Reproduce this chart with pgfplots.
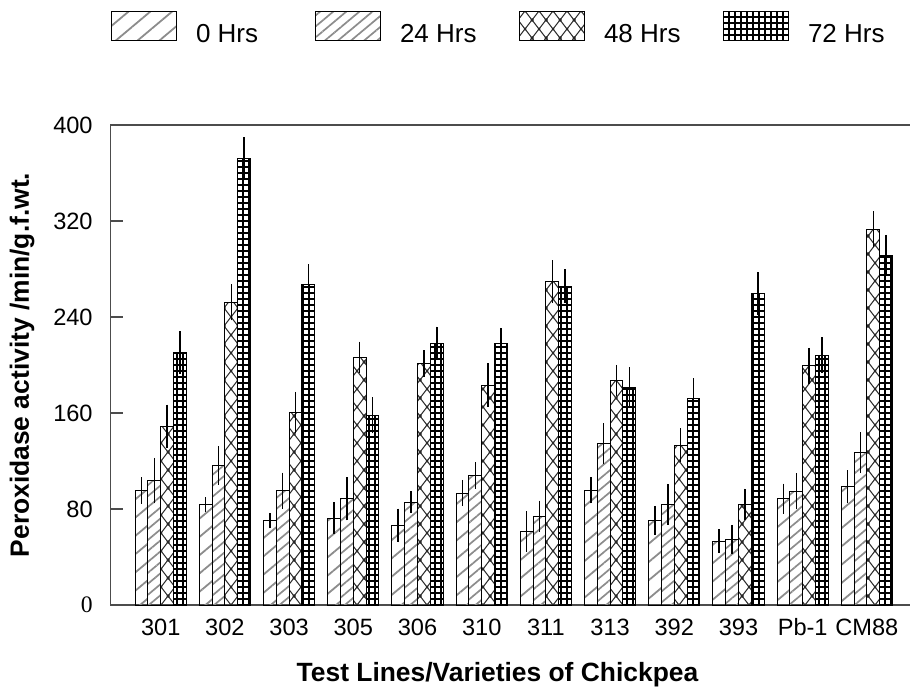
\documentclass[border=0pt]{standalone}
\usepackage{fontspec}
\setmainfont{Liberation Sans}
\newfontfamily\serifnum{Liberation Serif}
\usepackage{pgfplots}
\usepackage{pgfplotstable}
\pgfplotsset{compat=1.18}
\usetikzlibrary{patterns,patterns.meta}

% dense square grid for the 72 h bars
\pgfdeclarepatternformonly{densegrid}{\pgfqpoint{-1pt}{-1pt}}{\pgfqpoint{4pt}{4pt}}{\pgfqpoint{3pt}{3pt}}{%
  \pgfsetlinewidth{1pt}%
  \pgfpathmoveto{\pgfqpoint{-1pt}{1.5pt}}\pgfpathlineto{\pgfqpoint{4pt}{1.5pt}}%
  \pgfpathmoveto{\pgfqpoint{1.5pt}{-1pt}}\pgfpathlineto{\pgfqpoint{1.5pt}{4pt}}%
  \pgfusepath{stroke}}
% diamond hatch with dots for the 48 h bars
\pgfdeclarepatternformonly{diadots}{\pgfqpoint{-1pt}{-1pt}}{\pgfqpoint{8pt}{10pt}}{\pgfqpoint{7pt}{9pt}}{%
  \pgfsetlinewidth{0.5pt}%
  \pgfpathmoveto{\pgfqpoint{0pt}{0pt}}\pgfpathlineto{\pgfqpoint{7pt}{9pt}}%
  \pgfpathmoveto{\pgfqpoint{0pt}{9pt}}\pgfpathlineto{\pgfqpoint{7pt}{0pt}}%
  \pgfusepath{stroke}%
  \pgfpathcircle{\pgfqpoint{3.5pt}{4.5pt}}{0.75pt}%
  \pgfpathcircle{\pgfqpoint{0pt}{0pt}}{0.75pt}%
  \pgfpathcircle{\pgfqpoint{7pt}{0pt}}{0.75pt}%
  \pgfpathcircle{\pgfqpoint{0pt}{9pt}}{0.75pt}%
  \pgfpathcircle{\pgfqpoint{7pt}{9pt}}{0.75pt}%
  \pgfusepath{fill}}

% x = group index, y = activity, e = error
\pgfplotstableread{
x y e
0 95.3 11
1 83.6 6
2 70.3 6.5
3 72.5 13
4 66.4 14
5 93.3 11
6 61.0 17
7 95.6 11
8 70.6 12
9 53.3 10
10 88.6 12.6
11 98.6 13.5
}\hrsA
\pgfplotstableread{
x y e
0 103.6 19
1 116.4 16
2 95.3 15
3 88.6 18
4 85.6 9
5 108.0 11
6 73.9 13
7 134.4 17
8 83.9 17
9 54.7 12
10 94.7 15
11 126.9 17
}\hrsB
\pgfplotstableread{
x y e
0 148.9 18
1 252.2 15
2 160.6 17
3 206.4 13
4 201.4 11
5 183.3 18
6 269.5 18
7 187.2 13
8 133.3 14
9 83.9 13
10 199.2 15
11 313.0 15
}\hrsC
\pgfplotstableread{
x y e
0 210.3 18
1 372.0 18
2 267.0 17
3 158.0 15
4 218.0 14
5 218.0 13
6 265.6 14
7 181.1 17
8 172.0 17
9 259.7 18
10 208.3 15
11 291.4 17
}\hrsD

\begin{document}
\begin{tikzpicture}
\useasboundingbox (-55.35pt,-40.5pt) rectangle (399.65pt,302.5pt);
\begin{axis}[
  at={(0pt,0pt)}, anchor=south west,
  scale only axis, width=400.5pt, height=240pt,
  xmin=-0.779, xmax=11.698, ymin=0, ymax=400,
  ybar, bar width=0.2,
  xtick={0,...,11},
  xticklabels={301,302,303,305,306,310,311,313,392,393,Pb-1,CM88},
  ytick={0,80,160,240,320,400},
  yticklabels={{\serifnum 0},80,160,240,320,400},
  tick align=inside, ytick pos=left, major tick length=6pt,
  xtick style={draw=none}, ytick style={black!70, line width=0.6pt},
  axis line style={black!70, line width=0.8pt},
  yticklabel style={font=\fontsize{11.8}{13}\selectfont, xshift=-5.5pt},
  xticklabel style={font=\fontsize{11.8}{13}\selectfont, anchor=base, yshift=-15pt},
  label style={font=\fontsize{13.2}{15}\selectfont\bfseries},
  xlabel={Test Lines/Varieties of Chickpea},
  ylabel={Peroxidase activity /min/g.f.wt.},
  xlabel style={at={(axis description cs:0.4829,-0.1604)}, anchor=base},
  ylabel style={at={(axis description cs:-0.1107,0.5)}, anchor=center},
  error bars/y dir=both, error bars/y explicit,
  error bars/error mark=none,
  error bars/error bar style={black, line width=0.75pt},
  legend columns=4, legend cell align=left,
  legend image code/.code={\draw[#1, draw=black, line width=0.5pt] (0pt,-2.6pt) rectangle (32.5pt,11.9pt);},
  legend style={at={(axis description cs:0.0004,1.201)}, anchor=west,
    draw=none, fill=none, inner sep=0pt, outer sep=0pt,
    font=\fontsize{13}{15}\selectfont, nodes={inner sep=0pt},
    /tikz/every odd column/.append style={column sep=9.5pt}},
]
\addplot[draw=black, line width=0.5pt, bar shift=-0.3,
  pattern={Lines[angle=40,distance=7pt,line width=0.9pt]}, pattern color=black!45]
  table[x=x, y=y, y error=e] {\hrsA};
\addlegendentry{\makebox[59.5pt][l]{0 Hrs}}
\addplot[draw=black, line width=0.5pt, bar shift=-0.1,
  pattern={Lines[angle=40,distance=4.2pt,line width=0.85pt]}, pattern color=black!45]
  table[x=x, y=y, y error=e] {\hrsB};
\addlegendentry{\makebox[59.5pt][l]{24 Hrs}}
\addplot[draw=black, line width=0.5pt, bar shift=0.1,
  pattern=diadots, pattern color=black!85]
  table[x=x, y=y, y error=e] {\hrsC};
\addlegendentry{\makebox[59.5pt][l]{48 Hrs}}
\addplot[draw=black, line width=0.5pt, bar shift=0.3,
  pattern=densegrid, pattern color=black]
  table[x=x, y=y, y error=e] {\hrsD};
\addlegendentry{\makebox[59.5pt][l]{72 Hrs}}
\end{axis}
\end{tikzpicture}
\end{document}
